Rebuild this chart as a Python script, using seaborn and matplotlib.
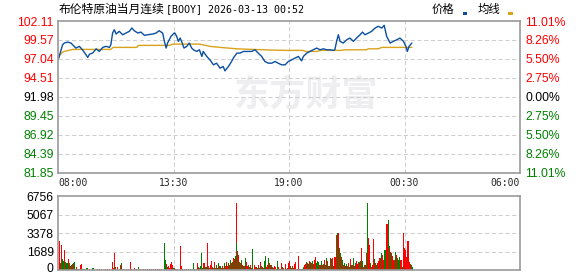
import matplotlib
matplotlib.use('Agg')
import matplotlib.pyplot as plt
import matplotlib.patches as mpatches
import matplotlib.transforms as mtransforms
import seaborn as sns

# ---------------- data ----------------
title_name = '布伦特原油当月连续'
title_code = '[BOOY] 2026-03-13 00:52'
legend_labels = ['价格', '均线']
x_ticks = [0, 330, 660, 990, 1320]          # minutes from 08:00
x_labels = ['08:00', '13:30', '19:00', '00:30', '06:00']
price_ticks = [102.11, 99.57, 97.04, 94.51, 91.98, 89.45, 86.92, 84.39, 81.85]
pct_labels = ['11.01%', '8.26%', '5.50%', '2.75%', '0.00%', '2.75%', '5.50%', '8.26%', '11.01%']
vol_ticks = [0, 1689, 3378, 5067, 6756]

price_t = [0, 2, 9, 13, 18, 28, 37, 42, 51, 61, 70,
           80, 85, 90, 99, 109, 118, 128, 137, 147, 151,
           156, 161, 166, 175, 185, 194, 204, 211, 218, 228,
           237, 247, 256, 271, 280, 289, 299, 304, 309, 313,
           323, 332, 334, 339, 344, 349, 353, 360, 368, 375,
           382, 387, 396, 404, 411, 415, 425, 434, 444, 453,
           463, 472, 477, 487, 496, 501, 511, 520, 530, 544,
           553, 563, 572, 582, 591, 601, 611, 620, 629, 639,
           649, 658, 668, 677, 687, 696, 701, 711, 720, 729,
           739, 749, 758, 768, 777, 787, 791, 796, 801, 806,
           815, 825, 834, 844, 853, 863, 870, 877, 887, 896,
           906, 915, 925, 932, 939, 949, 958, 968, 977, 987,
           994, 998, 1003, 1011]
price_v = [97.04, 97.15, 98.26, 98.93, 99.16, 99.29, 99.16, 98.93, 98.49, 98.72, 98.26,
           97.59, 97.24, 97.68, 97.82, 98.39, 98.04, 98.58, 98.72, 98.58, 98.93,
           100.50, 100.94, 100.37, 100.73, 100.27, 100.50, 100.73, 101.17, 100.81, 100.50,
           100.63, 100.19, 100.27, 100.37, 100.50, 100.81, 100.50, 99.39, 98.49, 99.16,
           100.06, 100.50, 100.50, 100.06, 99.39, 99.83, 99.39, 98.49, 98.72, 99.16,
           98.49, 98.26, 98.04, 98.26, 97.37, 98.04, 97.37, 96.92, 96.25, 96.47,
           95.80, 96.03, 95.44, 96.03, 96.70, 97.15, 97.82, 97.82, 98.04, 98.04,
           98.04, 98.26, 97.82, 97.37, 96.70, 96.47, 96.47, 96.70, 96.47, 96.25,
           96.25, 96.70, 96.92, 97.15, 97.37, 96.78, 97.37, 97.82, 98.04, 98.26,
           98.49, 98.26, 98.39, 98.26, 98.26, 98.18, 98.26, 99.39, 100.27, 99.39,
           99.16, 99.60, 99.83, 99.39, 99.83, 100.27, 100.63, 100.27, 100.50, 100.73,
           101.17, 101.40, 101.17, 101.53, 100.06, 99.16, 99.39, 99.60, 99.83, 99.39,
           98.72, 98.04, 98.72, 99.16]

avg_t = [0, 6, 12, 18, 42, 150, 158, 225, 230, 320, 326, 404, 434, 463, 511,
         611, 650, 700, 706, 740, 750, 810, 820, 880, 887, 915, 925, 1011]
avg_v = [97.04, 97.60, 97.90, 98.04, 98.31, 98.31, 98.58, 98.58, 98.85, 98.85, 99.02,
         99.02, 98.72, 98.58, 98.39, 98.22, 98.18, 98.18, 98.04, 98.04, 98.18, 98.18,
         98.26, 98.26, 98.39, 98.39, 98.58, 98.58]

vol_t = [4, 6, 9, 12, 15, 18, 21, 24, 27, 29, 32, 35, 38, 41, 44, 47, 49, 52, 55, 58,
         61, 64, 67, 69, 72, 75, 81, 84, 89, 95, 100, 106, 112, 118, 124, 130, 136, 142, 148,
         155, 158, 161, 164, 169, 175, 178, 181, 186, 195, 201, 207, 209, 218, 225, 231,
         237, 243, 249, 255, 261, 267, 273, 279, 285, 291, 297,
         304, 307, 309, 312, 315, 318, 321, 324, 327, 329, 332, 335, 341, 349, 352, 355,
         361, 367, 372, 378, 387, 390, 395, 398, 401, 404, 407, 409, 412, 415, 418, 421,
         424, 427, 430, 432, 435, 438, 441, 444, 447, 449, 452, 455, 458, 461, 464, 467,
         470, 472, 475, 478, 481, 484, 487, 489, 492, 495, 498, 501, 504, 507, 509, 510,
         512, 515, 518, 521, 524, 527, 529, 532, 535, 538, 541, 544, 547, 550, 552, 555,
         557, 561, 564, 567, 569, 572, 575, 578, 581, 584, 587, 590, 592, 595, 598, 601,
         604, 607, 610, 612, 615, 618, 621, 624, 627, 630, 632, 635, 638, 641, 644, 649,
         652, 655, 658, 661, 664, 667, 670, 672, 675, 678, 681, 684, 687, 690, 693, 696,
         699, 701, 704, 707, 710, 713, 716, 719, 722, 725, 728, 730, 733, 736, 739, 742,
         745, 748, 750, 753, 756, 759, 762, 765, 768, 771, 774, 777, 779, 782, 785, 788,
         791, 793, 796, 799, 802, 804, 807, 810, 813, 816, 819, 822, 825, 828, 830, 833,
         836, 839, 842, 845, 848, 851, 854, 857, 860, 862, 865, 868, 871, 874, 877, 880,
         882, 885, 888, 891, 894, 897, 900, 902, 905, 908, 911, 914, 917, 920, 923, 925,
         928, 931, 934, 937, 940, 943, 946, 948, 951, 954, 957, 960, 963, 966, 969, 972,
         975, 977, 980, 983, 986, 989, 992, 995, 998, 1000, 1003, 1006, 1009, 1012]
vol_v = [2645, 600, 2280, 970, 850, 1824, 760, 600, 670, 970, 600, 360, 450, 516, 600, 730, 120, 243, 80, 100,
         60, 456, 547, 60, 120, 50, 180, 150, 50, 40, 200, 40, 60, 50, 60, 40, 60, 50, 60,
         730, 200, 1580, 300, 240, 100, 456, 640, 100, 50, 60, 730, 100, 150, 120, 270,
         60, 60, 50, 60, 50, 60, 50, 60, 50, 60, 50,
         2490, 910, 516, 300, 360, 150, 516, 730, 456, 200, 180, 100, 80, 2190, 360, 80,
         60, 60, 60, 70, 640, 90, 100, 640, 300, 150, 360, 1550, 200, 640, 640, 240,
         240, 2460, 360, 150, 456, 820, 240, 150, 730, 150, 456, 210, 600, 360, 360, 150,
         360, 150, 600, 360, 730, 360, 670, 456, 910, 600, 730, 1125, 970, 1277, 6117, 2435,
         1730, 1370, 760, 600, 910, 456, 360, 360, 1064, 730, 360, 456, 300, 456, 150, 456,
         1915, 456, 300, 300, 150, 456, 150, 730, 360, 300, 150, 820, 1277, 300, 456, 1064,
         600, 456, 456, 300, 150, 360, 240, 120, 820, 300, 120, 120, 610, 300, 150, 516,
         120, 180, 670, 850, 360, 150, 360, 150, 550, 760, 100, 100, 1277, 120, 120, 120,
         120, 240, 420, 550, 730, 600, 550, 850, 730, 600, 850, 550, 910, 1216, 600, 790,
         700, 450, 480, 850, 450, 520, 910, 420, 1064, 820, 390, 360, 1064, 1030, 1064, 360,
         1216, 1216, 3190, 3400, 3400, 1976, 1520, 1216, 910, 450, 600, 360, 520, 360, 600, 300,
         970, 450, 480, 1064, 360, 600, 850, 550, 730, 600, 790, 1976, 850, 300, 450, 420,
         1520, 6140, 2888, 2280, 670, 240, 450, 2800, 970, 670, 450, 600, 850, 1064, 790, 1520,
         1370, 910, 1824, 1824, 4195, 4560, 2190, 2040, 1672, 1520, 1277, 910, 1672, 1370, 1125, 910,
         300, 1216, 910, 300, 3400, 1976, 1824, 1216, 2580, 2675, 760, 550, 490, 240]
vol_up = [1, 0, 1, 0, 0, 1, 0, 0, 0, 1, 0, 1, 0, 1, 0, 0, 0, 1, 0, 0,
          1, 1, 1, 0, 0, 1, 0, 0, 1, 1, 0, 1, 1, 1, 1, 1, 1, 1, 1,
          1, 1, 1, 0, 1, 1, 1, 0, 1, 1, 1, 1, 1, 1, 0, 0,
          1, 1, 0, 1, 1, 1, 0, 1, 1, 1, 1,
          0, 0, 1, 0, 1, 1, 1, 1, 1, 0, 0, 1, 1, 1, 1, 0,
          1, 0, 1, 0, 0, 0, 1, 1, 0, 1, 0, 0, 0, 1, 1, 0,
          0, 1, 1, 0, 1, 1, 0, 1, 1, 0, 0, 1, 0, 1, 0, 1,
          1, 0, 0, 1, 1, 1, 0, 1, 0, 1, 0, 1, 1, 0, 1, 0,
          1, 1, 0, 1, 0, 1, 0, 1, 0, 1, 1, 0, 1, 1, 0, 0,
          0, 1, 1, 0, 1, 1, 0, 1, 0, 1, 0, 0, 0, 1, 1, 0,
          1, 1, 0, 1, 0, 1, 1, 0, 0, 1, 1, 0, 1, 0, 1, 1,
          0, 1, 1, 1, 0, 1, 1, 0, 1, 1, 0, 1, 1, 0, 0, 0,
          0, 0, 1, 1, 0, 1, 0, 1, 0, 1, 0, 1, 1, 1, 0, 0,
          0, 1, 1, 0, 1, 0, 1, 0, 0, 1, 0, 1, 1, 0, 1, 0,
          1, 1, 1, 0, 1, 0, 0, 1, 0, 1, 0, 1, 0, 1, 1, 0,
          1, 0, 1, 0, 1, 0, 1, 1, 0, 1, 0, 1, 0, 1, 1, 0,
          1, 0, 1, 1, 0, 1, 1, 1, 0, 1, 0, 1, 1, 1, 0, 0,
          1, 1, 0, 0, 1, 0, 0, 1, 1, 0, 1, 1, 0, 1, 0, 0,
          1, 0, 1, 0, 1, 1, 1, 1, 0, 1, 1, 0, 1, 0]

# ---------------- style ----------------
sns.set_style('white')
plt.rcParams['font.family'] = ['Liberation Sans', 'DejaVu Sans']
CJK = ['Noto Sans CJK SC', 'DejaVu Sans']
MONO = ['DejaVu Sans Mono']
BLUE = '#0b4fa0'
GOLD = '#d9a21b'
RED = '#ff0000'
GREEN = '#008000'
FRAME = '#999999'
GRID = '#cfcfcf'

W, H = 578, 276
fig = plt.figure(figsize=(W / 100, H / 100), dpi=100)


def rect(l, t, r, b):
    return [l / W, 1 - b / H, (r - l) / W, (b - t) / H]


ax = fig.add_axes(rect(58, 21, 520, 172.5))
axv = fig.add_axes(rect(58, 196.3, 520, 270))

for a in (ax, axv):
    a.set_facecolor('white')
    for s in a.spines.values():
        s.set_color(FRAME)
        s.set_linewidth(1.2)
        s.set_zorder(5)
    a.set_xlim(x_ticks[0], x_ticks[-1])
    for xv in x_ticks[1:-1]:
        a.axvline(xv, color=GRID, lw=0.75, ls=(0, (4, 2.5)), zorder=0.5)

# watermark
ax.text(0.538, 0.51, '东方财富', transform=ax.transAxes, family=CJK, fontsize=26,
        fontweight='bold', color='#eeeef1', ha='center', va='center', zorder=0.2)

# main price chart
ax.set_ylim(price_ticks[-1], price_ticks[0])
for yv in price_ticks[1:-1]:
    ax.axhline(yv, color=GRID, lw=0.75, ls=(0, (4, 2.5)), zorder=0.5)

sns.lineplot(x=avg_t, y=avg_v, ax=ax, color=GOLD, lw=1.0, estimator=None, zorder=3)
sns.lineplot(x=price_t, y=price_v, ax=ax, color=BLUE, lw=1.0, estimator=None, zorder=4)

ax.set_yticks(price_ticks)
ax.set_yticklabels([f'{v:.2f}' for v in price_ticks])
ax.tick_params(axis='y', length=0, pad=3, labelsize=8.8)
for i, lab in enumerate(ax.get_yticklabels()):
    lab.set_color(RED if i < 4 else ('black' if i == 4 else GREEN))

ax.set_xticks(x_ticks)
ax.set_xticklabels(x_labels, family=MONO, fontsize=7)
ax.tick_params(axis='x', length=0, pad=4)
labs = ax.get_xticklabels()
labs[0].set_ha('left')
labs[-1].set_ha('right')
ax.set_xlabel('')
ax.set_ylabel('')

ax2 = ax.twinx()
ax2.set_ylim(price_ticks[-1], price_ticks[0])
ax2.set_yticks(price_ticks)
ax2.set_yticklabels(pct_labels)
ax2.tick_params(axis='y', length=0, pad=4, labelsize=8.8)
for s in ax2.spines.values():
    s.set_visible(False)
for i, lab in enumerate(ax2.get_yticklabels()):
    lab.set_color(RED if i < 4 else ('black' if i == 4 else GREEN))

# volume chart
axv.set_ylim(vol_ticks[0], vol_ticks[-1])
for yv in vol_ticks[1:-1]:
    axv.axhline(yv, color=GRID, lw=0.75, ls=(0, (4, 2.5)), zorder=0.5)
axv.bar(vol_t, vol_v, width=2.86, color=[RED if u else GREEN for u in vol_up],
        linewidth=0, zorder=2)
axv.set_yticks(vol_ticks)
axv.set_yticklabels([str(v) for v in vol_ticks])
axv.tick_params(axis='y', length=0, pad=3, labelsize=8.8, labelcolor='black')
axv.set_xticks([])
zero_lab = axv.get_yticklabels()[0]
zero_lab.set_transform(zero_lab.get_transform() +
                       mtransforms.ScaledTranslation(0, 1.5 / 72, fig.dpi_scale_trans))

# title and legend
fig.text(59 / W, 1 - 9.5 / H, title_name, family=CJK, fontsize=8.5, ha='left', va='center',
         color='black')
fig.text(166 / W, 1 - 9.5 / H, title_code, family=MONO, fontsize=7.2, ha='left', va='center',
         color='black')
fig.text(432 / W, 1 - 9.5 / H, legend_labels[0], family=CJK, fontsize=8.2, ha='left',
         va='center', color='black')
fig.text(478 / W, 1 - 9.5 / H, legend_labels[1], family=CJK, fontsize=8.2, ha='left',
         va='center', color='black')
fig.patches.append(mpatches.Rectangle((463 / W, 1 - 15 / H), 4.5 / W, 2.5 / H,
                                      transform=fig.transFigure, color=BLUE, lw=0))
fig.patches.append(mpatches.Rectangle((508 / W, 1 - 15 / H), 4.5 / W, 2.5 / H,
                                      transform=fig.transFigure, color=GOLD, lw=0))

fig.savefig('out.png', dpi=100, facecolor='white')
